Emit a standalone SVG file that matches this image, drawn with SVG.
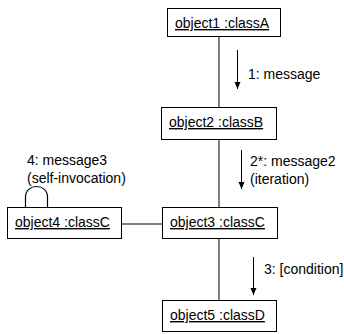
<svg xmlns="http://www.w3.org/2000/svg" width="344" height="334" viewBox="0 0 344 334">
<defs>
<marker id="ah" markerWidth="8" markerHeight="8" refX="7" refY="4" orient="auto" markerUnits="userSpaceOnUse">
<path d="M0,1 L7,4 L0,7 Z" fill="#000"/>
</marker>
<style>
.box{fill:#fff;stroke:#000;stroke-width:1}
.lbl{font-family:"Liberation Sans",Arial,sans-serif;font-size:14px;fill:#000}
.obj{text-decoration:underline}
.conn{stroke:#808080;stroke-width:2;fill:none}
.arr{stroke:#000;stroke-width:1;fill:none;marker-end:url(#ah)}
</style>
</defs>
<rect width="344" height="334" fill="#fff"/>
<g id="connectors">
<line class="conn" x1="219" y1="36" x2="219" y2="107"/>
<line class="conn" x1="219" y1="140" x2="219" y2="207"/>
<line class="conn" x1="219" y1="238" x2="219" y2="300"/>
<line class="conn" x1="122" y1="224" x2="162" y2="224"/>
<path class="conn" d="M25.5,207 L25.5,197 C25.5,183 47.5,183 47.5,197 L47.5,207" style="stroke:#000;stroke-width:1.2"/>
<line class="arr" x1="237.5" y1="50" x2="237.5" y2="89"/>
<text class="lbl" x="248" y="79">1: message</text>
<line class="arr" x1="241.5" y1="150" x2="241.5" y2="189"/>
<text class="lbl" x="250" y="166">2*: message2</text>
<text class="lbl" x="250" y="184">(iteration)</text>
<line class="arr" x1="253.5" y1="257" x2="253.5" y2="295"/>
<text class="lbl" x="264" y="274">3: [condition]</text>
<text class="lbl" x="27" y="165">4: message3</text>
<text class="lbl" x="27" y="183">(self-invocation)</text>
</g>
<g id="object1">
<rect class="box" x="167.5" y="8.5" width="113" height="28"/>
<text class="lbl obj" x="175" y="28">object1 :classA</text>
</g>
<g id="object2">
<rect class="box" x="161.5" y="107.5" width="115" height="32"/>
<text class="lbl obj" x="169" y="127">object2 :classB</text>
</g>
<g id="object3">
<rect class="box" x="162.5" y="207.5" width="115" height="31"/>
<text class="lbl obj" x="170" y="227">object3 :classC</text>
</g>
<g id="object4">
<rect class="box" x="7.5" y="207.5" width="114" height="31"/>
<text class="lbl obj" x="15" y="227">object4 :classC</text>
</g>
<g id="object5">
<rect class="box" x="162.5" y="300.5" width="114" height="31"/>
<text class="lbl obj" x="170" y="320">object5 :classD</text>
</g>
</svg>
